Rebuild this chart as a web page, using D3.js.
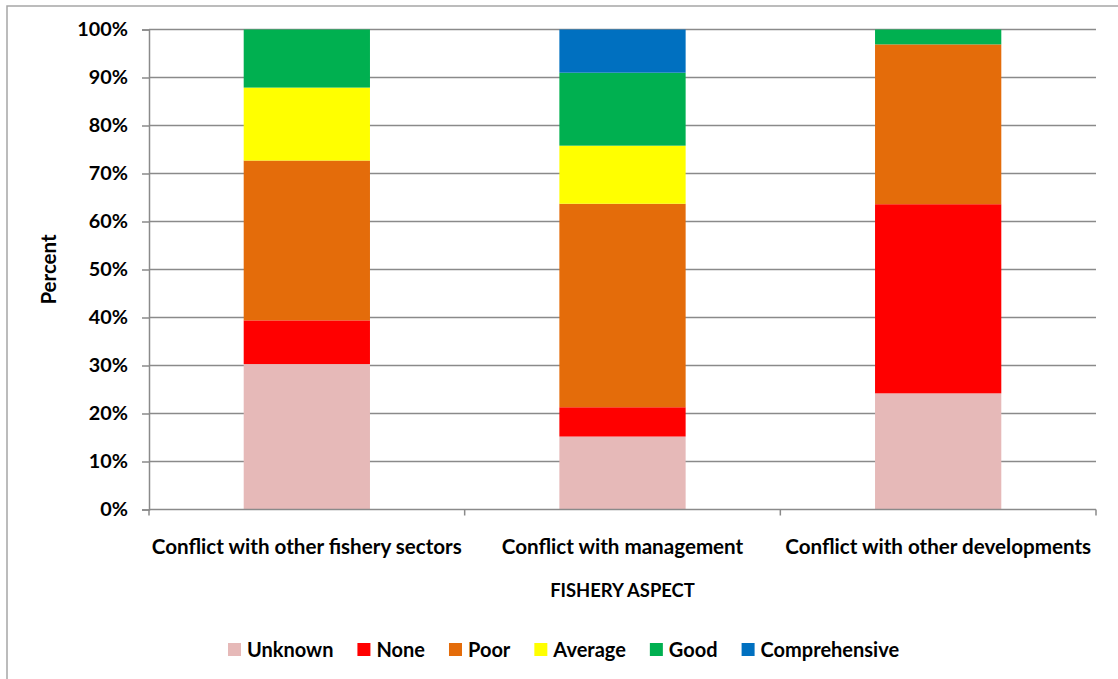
<!DOCTYPE html>
<html>
<head>
<meta charset="utf-8">
<script src="https://cdn.jsdelivr.net/npm/d3@7"></script>
<style>
  body { margin: 0; background: #fff; }
  svg { display: block; font-family: Lato, "Open Sans", sans-serif; font-weight: bold; }
</style>
</head>
<body>
<svg id="chart" width="1118" height="679"></svg>
<script>
// data (percent of each aspect)
const categories = ["Conflict with other fishery sectors", "Conflict with management", "Conflict with other developments"];
const ratings = ["Unknown", "None", "Poor", "Average", "Good", "Comprehensive"];
const unknown = [30.3, 15.2, 24.2];
const none = [9.1, 6.1, 39.4];
const poor = [33.3, 42.4, 33.3];
const average = [15.2, 12.1, 0];
const good = [12.1, 15.2, 3.1];
const comprehensive = [0, 9.0, 0];
const yTicks = [0, 10, 20, 30, 40, 50, 60, 70, 80, 90, 100];
const colors = ["#E6B9B8", "#FF0000", "#E46C0A", "#FFFF00", "#00B050", "#0070C0"];

const rows = categories.map((c, i) => ({
    category: c,
    Unknown: unknown[i],
    None: none[i],
    Poor: poor[i],
    Average: average[i],
    Good: good[i],
    Comprehensive: comprehensive[i]
}));

const svg = d3.select("#chart");
const gridColor = "#8a8a8a";

// outer chart border (runs off the right / bottom edge)
svg.append("rect")
    .attr("x", 7).attr("y", 6)
    .attr("width", 1130).attr("height", 700)
    .attr("fill", "none")
    .attr("stroke", "#a6a6a6")
    .attr("stroke-width", 1.5);

const plot = { left: 149, right: 1096, top: 29.5, bottom: 509.5 };

const x = d3.scaleBand()
    .domain(categories)
    .range([plot.left, plot.right])
    .paddingInner(0.6)
    .paddingOuter(0.3);

const y = d3.scaleLinear()
    .domain([0, 100])
    .range([plot.bottom, plot.top]);

// gridlines
svg.append("g")
    .selectAll("line")
    .data(yTicks.filter(t => t > 0))
    .join("line")
    .attr("x1", plot.left).attr("x2", plot.right)
    .attr("y1", d => y(d)).attr("y2", d => y(d))
    .attr("stroke", gridColor)
    .attr("stroke-width", 1.5);

// stacked bars
const stacked = d3.stack().keys(ratings)(rows);
const color = d3.scaleOrdinal().domain(ratings).range(colors);

svg.append("g")
    .selectAll("g")
    .data(stacked)
    .join("g")
    .attr("fill", d => color(d.key))
    .selectAll("rect")
    .data(d => d.filter(s => s[1] - s[0] > 0))
    .join("rect")
    .attr("x", d => x(d.data.category))
    .attr("width", x.bandwidth())
    .attr("y", d => y(d[1]))
    .attr("height", d => y(d[0]) - y(d[1]));

// y axis
const yAxis = svg.append("g")
    .attr("transform", `translate(${plot.left},0)`)
    .call(d3.axisLeft(y).tickValues(yTicks).tickFormat(d => d + "%").tickSizeOuter(0).tickSize(7).tickPadding(14));
yAxis.select(".domain").attr("stroke", gridColor).attr("stroke-width", 1.5);
yAxis.selectAll(".tick line").attr("stroke", gridColor).attr("stroke-width", 1.5);
yAxis.selectAll("text").attr("font-size", 19.8).attr("font-family", "Lato").attr("font-weight", "bold").attr("fill", "#000");

// x axis with ticks at band boundaries
const xAxis = svg.append("g").attr("transform", `translate(0,${plot.bottom})`);
xAxis.append("line")
    .attr("x1", plot.left).attr("x2", plot.right)
    .attr("stroke", gridColor).attr("stroke-width", 1.5);
const step = (plot.right - plot.left) / categories.length;
xAxis.selectAll(".xtick")
    .data(d3.range(categories.length + 1))
    .join("line")
    .attr("x1", i => plot.left + i * step).attr("x2", i => plot.left + i * step)
    .attr("y1", 0).attr("y2", 6)
    .attr("stroke", gridColor).attr("stroke-width", 1.5);
xAxis.selectAll(".xlabel")
    .data(categories)
    .join("text")
    .attr("x", d => x(d) + x.bandwidth() / 2)
    .attr("y", 44)
    .attr("text-anchor", "middle")
    .attr("font-size", 20.6)
    .text(d => d);

// axis titles
svg.append("text")
    .attr("x", (plot.left + plot.right) / 2)
    .attr("y", 597)
    .attr("text-anchor", "middle")
    .attr("font-size", 18.4)
    .text("FISHERY ASPECT");

svg.append("text")
    .attr("transform", `translate(56,${(plot.top + plot.bottom) / 2}) rotate(-90)`)
    .attr("text-anchor", "middle")
    .attr("font-size", 20.5)
    .text("Percent");

// legend
const legend = svg.append("g").attr("transform", "translate(228,657)");
let lx = 0;
ratings.forEach((r, i) => {
    const item = legend.append("g").attr("transform", `translate(${lx},0)`);
    item.append("rect")
        .attr("x", 0).attr("y", -14)
        .attr("width", 13).attr("height", 13)
        .attr("fill", colors[i]);
    const t = item.append("text")
        .attr("x", 19)
        .attr("font-size", 20)
        .text(r);
    lx += 19 + t.node().getComputedTextLength() + 24;
});
</script>
</body>
</html>
